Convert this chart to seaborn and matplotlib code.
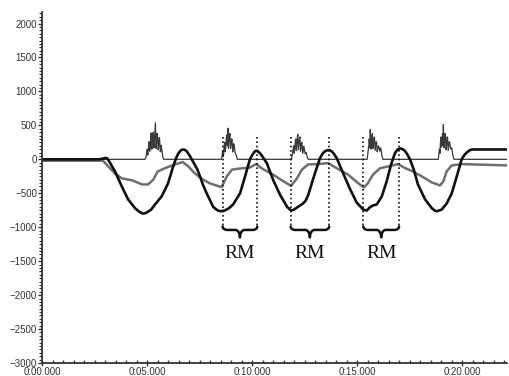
import numpy as np
import pandas as pd
import matplotlib
matplotlib.use("Agg")
import matplotlib.pyplot as plt
import matplotlib.ticker as mticker
import seaborn as sns

# --- data (time in s, signal value) ---
black_t = [0.0, 2.7, 2.9, 3.0, 3.1, 3.2, 3.48, 3.8, 4.1, 4.43, 4.62, 4.8, 4.95, 5.05, 5.2, 5.38, 5.7,
           6.0, 6.25, 6.4, 6.5, 6.6, 6.7, 6.8, 6.9, 7.05, 7.4, 7.52, 7.67, 7.84, 8.15, 8.35, 8.48, 8.7,
           8.9, 9.1, 9.43, 9.67, 9.9, 10.0, 10.14, 10.25, 10.38, 10.5, 10.71, 11.0, 11.33, 11.67,
           11.86, 12.0, 12.14, 12.43, 12.55, 12.67, 12.76, 13.0, 13.24, 13.36, 13.48, 13.6, 13.71,
           13.82, 13.9, 14.03, 14.33, 14.67, 14.98, 15.29, 15.46, 15.6, 15.76, 15.94, 16.18, 16.41,
           16.62, 16.81, 16.93, 17.05, 17.17, 17.29, 17.4, 17.52, 17.7, 17.9, 18.24, 18.56, 18.7,
           18.8, 19.03, 19.27, 19.51, 19.75, 19.98, 20.1, 20.22, 20.35, 20.46, 22.2]
black_v = [0, 0, 10, 20, 15, -30, -180, -400, -590, -720, -770, -800, -790, -770, -740, -665, -545,
           -355, -100, 30, 90, 130, 145, 140, 115, 45, -150, -250, -380, -500, -700, -750, -765, -755,
           -720, -665, -500, -250, 0, 60, 120, 125, 90, 40, -60, -300, -520, -700,
           -755, -740, -710, -650, -610, -530, -440, -200, 20, 85, 120, 135, 135,
           110, 80, 20, -200, -440, -635, -740, -755, -710, -680, -665, -545, -325,
           -75, 95, 145, 160, 150, 120, 70, 0, -150, -370, -590, -720, -755,
           -765, -740, -650, -500, -250, 0, 60, 100, 130, 145, 145]

gray_t = [0.0, 2.9, 3.14, 3.48, 3.8, 4.3, 4.76, 5.05, 5.3, 5.5, 5.86, 6.33, 6.7, 6.95, 7.29, 7.67,
          8.0, 8.55, 8.8, 9.05, 9.57, 9.9, 10.2, 10.5, 11.0, 11.5, 11.86, 12.14, 12.38, 12.67, 13.14,
          13.62, 14.03, 14.57, 15.05, 15.33, 15.52, 15.76, 16.1, 16.48, 16.95, 17.29, 17.6, 18.08,
          18.56, 18.95, 19.11, 19.27, 19.51, 19.98, 22.2]
gray_v = [-20, -20, -100, -210, -280, -310, -370, -370, -300, -180, -130, -75, -40, -100, -210, -300,
          -355, -410, -250, -150, -130, -120, -70, -140, -225, -325, -390, -280, -150, -75, -70,
          -55, -130, -225, -350, -415, -350, -225, -130, -105, -70, -130, -170, -250,
          -340, -385, -325, -175, -90, -70, -90]

emg_t = [0.0,
         4.90, 4.95, 4.98, 5.00, 5.03, 5.05, 5.08, 5.10, 5.13, 5.15, 5.18, 5.20, 5.23, 5.25, 5.28,
         5.30, 5.33, 5.35, 5.38, 5.40, 5.43, 5.45, 5.48, 5.50, 5.53, 5.55, 5.58, 5.60, 5.63, 5.65,
         5.68, 5.70, 5.75, 5.80,
         8.55, 8.60, 8.63, 8.65, 8.68, 8.70, 8.73, 8.75, 8.78, 8.80, 8.83, 8.85, 8.88, 8.90, 8.93,
         8.95, 8.98, 9.00, 9.03, 9.05, 9.08, 9.10, 9.13, 9.15, 9.20, 9.25, 9.30,
         11.88, 11.93, 11.98, 12.01, 12.03, 12.06, 12.08, 12.11, 12.13, 12.16, 12.18, 12.21, 12.23,
         12.26, 12.28, 12.31, 12.33, 12.36, 12.38, 12.41, 12.43, 12.46, 12.48, 12.53, 12.58, 12.63,
         12.68,
         15.48, 15.53, 15.56, 15.58, 15.61, 15.63, 15.66, 15.68, 15.71, 15.73, 15.76, 15.78, 15.81,
         15.83, 15.86, 15.88, 15.91, 15.93, 15.96, 15.98, 16.03, 16.08, 16.13, 16.18, 16.23,
         18.87, 18.92, 18.95, 18.97, 19.00, 19.02, 19.05, 19.07, 19.09, 19.11, 19.14, 19.16, 19.19,
         19.21, 19.24, 19.26, 19.29, 19.31, 19.34, 19.36, 19.39, 19.41, 19.46, 19.51, 19.56, 19.62,
         22.2]
emg_v = [0,
         0, 30, 110, 150, 60, 80, 220, 260, 120, 170, 330, 390, 150, 200, 380,
         400, 170, 250, 420, 540, 160, 230, 380, 330, 140, 180, 320, 300, 110, 120,
         210, 150, 40, 0,
         0, 120, 40, 80, 220, 250, 110, 180, 320, 360, 200, 460, 160, 250, 350,
         380, 160, 220, 300, 290, 110, 150, 230, 200, 90, 60, 0,
         0, 90, 200, 90, 150, 260, 300, 130, 200, 330, 370, 140, 220,
         300, 330, 120, 180, 250, 240, 90, 120, 190, 170, 80, 100, 30,
         0,
         0, 120, 200, 300, 170, 440, 150, 200, 350, 380, 160, 230, 310,
         330, 130, 180, 260, 250, 110, 150, 200, 120, 170, 60, 0,
         0, 150, 90, 240, 330, 180, 260, 380, 200, 510, 170, 230, 380,
         340, 140, 200, 330, 320, 130, 180, 260, 250, 150, 170, 60, 0,
         0]

rm_start = [8.6, 11.84, 15.3]
rm_end = [10.25, 13.67, 17.0]
rm_label = "RM"
dot_top, dot_bottom = 330, -990
brace_top, brace_base, brace_tip = -990, -1040, -1150
label_y = -1450


def brace(a, b, r=0.22, n=20):
    # curly brace between a and b, pointing down
    m = (a + b) / 2
    th = np.linspace(np.pi, 1.5 * np.pi, n)
    lx = a + r + r * np.cos(th)
    ly = brace_top + (brace_top - brace_base) * np.sin(th)
    th2 = np.linspace(0.5 * np.pi, 0, n)
    cx = m - r + r * np.cos(th2)
    cy = brace_tip + (brace_base - brace_tip) * np.sin(th2)
    xs = np.concatenate([lx, cx, (2 * m - cx)[::-1], (2 * m - lx)[::-1]])
    ys = np.concatenate([ly, cy, cy[::-1], ly[::-1]])
    return xs, ys


def fmt_time(x, pos):
    m = int(x // 60)
    s = x - 60 * m
    return f"{m}:{s:06.3f}"


sns.set_style("ticks")
plt.rcParams['font.family'] = ['Liberation Sans', 'DejaVu Sans']

fig = plt.figure(figsize=(5.09, 3.76), dpi=100)
ax = fig.add_axes([42 / 509, 13 / 376, 465 / 509, 351 / 376])

sns.lineplot(x=emg_t, y=emg_v, ax=ax, color='#3a3a3a', lw=0.9, sort=False)
sns.lineplot(x=gray_t, y=gray_v, ax=ax, color='#6e6e6e', lw=1.8, sort=False)
sns.lineplot(x=black_t, y=black_v, ax=ax, color='#111111', lw=1.9, sort=False)

for a, b in zip(rm_start, rm_end):
    for t in (a, b):
        ax.plot([t, t], [dot_top, dot_bottom], color='#111111', lw=1.2, ls=(0, (1, 1.6)))
    bx, by = brace(a, b)
    ax.plot(bx, by, color='#111111', lw=1.8, solid_capstyle='round')
    ax.text((a + b) / 2, label_y, rm_label, ha='center', va='baseline',
            fontsize=14, family=['Liberation Serif', 'DejaVu Serif'], color='#111111')

ax.set_xlim(0, 22.14)
ax.set_ylim(-3000, 2170)
ax.xaxis.set_major_locator(mticker.MultipleLocator(5))
ax.xaxis.set_minor_locator(mticker.MultipleLocator(0.5))
ax.xaxis.set_major_formatter(mticker.FuncFormatter(fmt_time))
ax.yaxis.set_major_locator(mticker.MultipleLocator(500))
ax.yaxis.set_minor_locator(mticker.MultipleLocator(50))

ax.tick_params(axis='x', which='major', direction='inout', length=4, width=1, pad=1, labelsize=7, colors='#333333')
ax.tick_params(axis='x', which='minor', direction='in', length=2, width=1, colors='#333333')
ax.tick_params(axis='y', which='major', direction='out', length=3, width=1, pad=0.5, labelsize=7, colors='#333333')
ax.tick_params(axis='y', which='minor', direction='out', length=2, width=0.8, colors='#333333')

sns.despine(ax=ax)
for s in ('left', 'bottom'):
    ax.spines[s].set_linewidth(1.3)
    ax.spines[s].set_color('#333333')
ax.set_xlabel('')
ax.set_ylabel('')

fig.savefig('out.png', dpi=100)
